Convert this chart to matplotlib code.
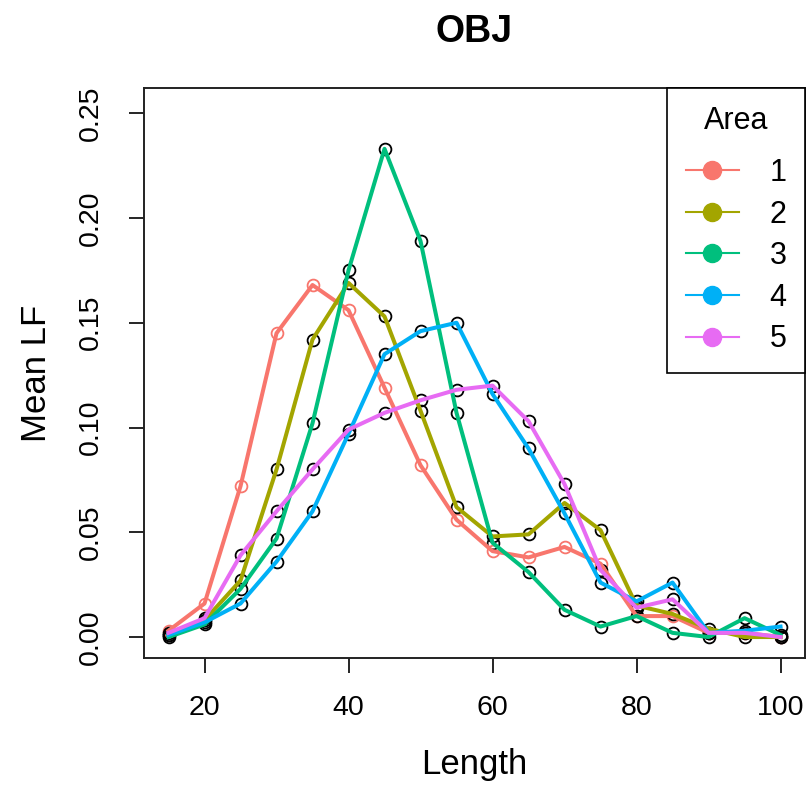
import matplotlib.pyplot as plt
from matplotlib.lines import Line2D

plt.rcParams['font.family'] = ['Liberation Sans', 'DejaVu Sans']

# Data
lengths = [15, 20, 25, 30, 35, 40, 45, 50, 55, 60, 65, 70, 75, 80, 85, 90, 95, 100]
area1 = [0.003, 0.016, 0.072, 0.145, 0.168, 0.156, 0.119, 0.082, 0.056, 0.041,
         0.038, 0.043, 0.035, 0.010, 0.010, 0.002, 0.002, 0.000]
area2 = [0.001, 0.008, 0.027, 0.080, 0.142, 0.169, 0.153, 0.108, 0.062, 0.048,
         0.049, 0.064, 0.051, 0.015, 0.011, 0.004, 0.000, 0.000]
area3 = [0.000, 0.006, 0.023, 0.047, 0.102, 0.175, 0.233, 0.189, 0.107, 0.045,
         0.031, 0.013, 0.005, 0.010, 0.002, 0.000, 0.009, 0.001]
area4 = [0.001, 0.007, 0.016, 0.036, 0.060, 0.097, 0.135, 0.146, 0.150, 0.116,
         0.090, 0.059, 0.026, 0.017, 0.026, 0.002, 0.003, 0.005]
area5 = [0.002, 0.009, 0.039, 0.060, 0.080, 0.099, 0.107, 0.113, 0.118, 0.120,
         0.103, 0.073, 0.032, 0.014, 0.018, 0.002, 0.002, 0.000]
areas = ['1', '2', '3', '4', '5']
series = [area1, area2, area3, area4, area5]
colors = ['#F8766D', '#A3A500', '#00BF7D', '#00B0F6', '#E76BF3']

fig = plt.figure(figsize=(8.11, 7.85), dpi=100)
ax = fig.add_axes([0.1776, 0.1618, 0.815, 0.726])

# open circles first (area 1 in its own colour, the rest black)
for i, vals in enumerate(series):
    edge = colors[0] if i == 0 else 'black'
    ax.plot(lengths, vals, linestyle='none', marker='o', markersize=8.5,
            markerfacecolor='none', markeredgecolor=edge, markeredgewidth=1.3,
            zorder=2)

# then the lines
for vals, c in zip(series, colors):
    ax.plot(lengths, vals, color=c, linewidth=2.9, zorder=3,
            solid_joinstyle='round')

ax.set_xlim(11.6, 103.4)
ax.set_ylim(-0.010, 0.262)
ax.set_xticks([20, 40, 60, 80, 100])
ax.set_yticks([0.00, 0.05, 0.10, 0.15, 0.20, 0.25])
ax.set_yticklabels(['0.00', '0.05', '0.10', '0.15', '0.20', '0.25'],
                   rotation=90, va='center')
ax.tick_params(axis='both', direction='out', length=11, width=1.2,
               labelsize=20.5, pad=15.5, colors='black')
ax.tick_params(axis='y', pad=18)
for sp in ax.spines.values():
    sp.set_linewidth(1.4)
    sp.set_color('#222222')

ax.set_xlabel('Length', fontsize=25, labelpad=19.5)
ax.set_ylabel('Mean LF', fontsize=25, labelpad=18)
ax.set_title('OBJ', fontsize=27, fontweight='bold', pad=33)

handles = [Line2D([0], [0], color=c, linewidth=1.5, marker='o',
                  markersize=13, markerfacecolor=c, markeredgecolor=c)
           for c in colors]
leg = ax.legend(handles, areas, title='Area', loc='upper right',
                fontsize=22, title_fontsize=22, frameon=True, fancybox=False,
                borderaxespad=0, handlelength=1.75, handletextpad=1.0,
                labelspacing=0.38, borderpad=0.6, framealpha=1)
leg.get_frame().set_edgecolor('black')
leg.get_frame().set_linewidth(1.2)
leg._legend_box.sep = 15.5

fig.savefig('out.png', dpi=100)
